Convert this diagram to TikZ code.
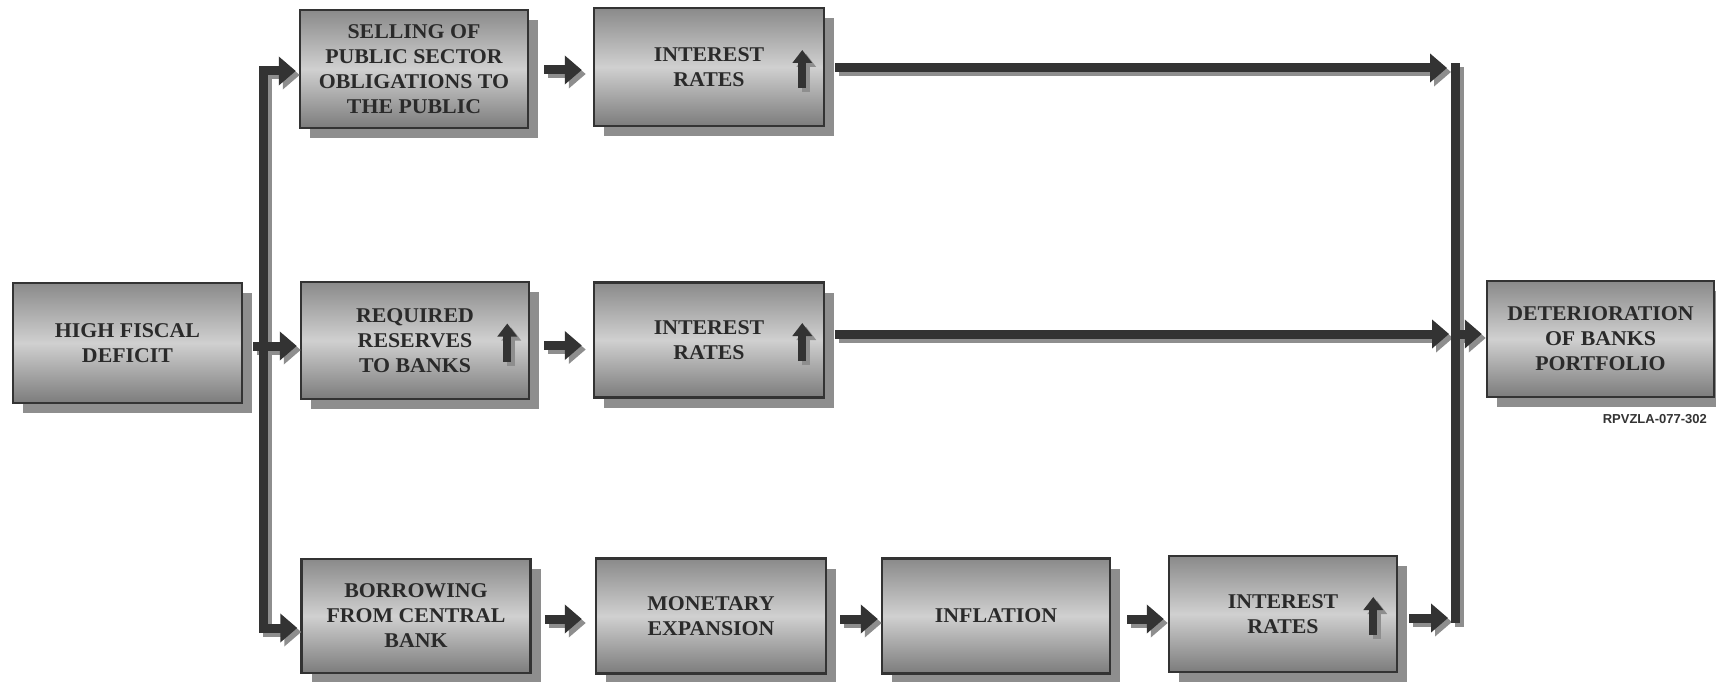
\documentclass[tikz,border=0pt]{standalone}
\usepackage{fontspec}
\setmainfont{Liberation Serif}[FakeStretch=1.04]
\newfontfamily\codefont{Liberation Sans}
\usetikzlibrary{arrows.meta,shadows,calc}
\definecolor{inkc}{HTML}{333333}
\definecolor{shadc}{HTML}{8E8E8E}
\definecolor{boxtop}{HTML}{8A8A8A}
\definecolor{boxmid}{HTML}{D0D0D0}
\definecolor{boxbot}{HTML}{7C7C7C}
\definecolor{txtc}{HTML}{2A2A2A}
\tikzset{
  box/.style={draw=inkc, line width=2.5pt, minimum width=229pt, minimum height=117pt,
    inner sep=0pt, align=center, font=\fontsize{21}{25}\selectfont\bfseries, text=txtc,
    top color=boxtop, bottom color=boxbot, middle color=boxmid,
    drop shadow={shadow xshift=10pt, shadow yshift=-10pt, fill=shadc, opacity=1}},
  cnc/.style={draw=inkc},
  cn/.style={cnc, line width=9pt, -{Triangle[length=17pt,width=28pt]}},
  br/.style={cnc, line width=9pt, line cap=rect},
  up/.style={cnc, line width=8pt, -{Triangle[length=13pt,width=19pt]}}
}
\newcommand\allconnectors{%
  \draw[br] (L1) -- (L3);
  \draw[br] (R1) -- (R3);
  \draw[cn] (L1) -- ($(L1 -| sell.west)+(-3,0)$);
  \draw[cn] ($(L2 -| hfd.east)+(10,0)$) -- ($(L2 -| req.west)+(-3,0)$);
  \draw[cn] (L3) -- ($(L3 -| bor.west)+(-3,0)$);
  \draw[cn] ($(sell.east)+(15,1)$) -- ($(sell.east -| int1.west)+(-11,1)$);
  \draw[cn] ($(req.east)+(14,5)$) -- ($(req.east -| int2.west)+(-11,5)$);
  \draw[cn] ($(bor.east)+(13,3)$) -- ($(bor.east -| mon.west)+(-13,3)$);
  \draw[cn] ($(mon.east)+(13,3)$) -- ($(mon.east -| inf.west)+(-3,3)$);
  \draw[cn] ($(inf.east)+(16,3)$) -- ($(inf.east -| int3.west)+(-4,3)$);
  \draw[cn] ($(R1 -| int1.east)+(10,0)$) -- ($(R1)+(-8,0)$);
  \draw[cn] ($(R2 -| int2.east)+(10,0)$) -- ($(R2)+(-6,0)$);
  \draw[cn] ($(R3 -| int3.east)+(11,0)$) -- ($(R3)+(-7,0)$);
  \draw[cn] (R2) -- ($(R2 -| det.west)+(-4,0)$);
  \draw[up] ($(int1.east)+(-23,21)$) -- ($(int1.east)+(-23,-17)$);
  \draw[up] ($(int2.east)+(-23,21)$) -- ($(int2.east)+(-23,-17)$);
  \draw[up] ($(int3.east)+(-25,21)$) -- ($(int3.east)+(-25,-17)$);
  \draw[up] ($(req.east)+(-23,21)$) -- ($(req.east)+(-23,-17)$);
}
\begin{document}
\begin{tikzpicture}[x=1pt,y=-1pt]
\useasboundingbox[fill=white] (0,0) rectangle (1716,682);
% nodes
\node[box, minimum height=120pt] (hfd) at (127.5,343) {HIGH FISCAL\\DEFICIT};
\node[box, minimum height=118pt, minimum width=228pt] (sell) at (414,69) {SELLING OF\\PUBLIC SECTOR\\OBLIGATIONS TO\\THE PUBLIC};
\node[box, minimum height=118pt, minimum width=230pt] (int1) at (709,67) {INTEREST\\RATES};
\node[box, minimum width=228pt] (req) at (415,340.5) {REQUIRED\\RESERVES\\TO BANKS};
\node[box, minimum height=115pt, minimum width=230pt] (int2) at (709,340) {INTEREST\\RATES};
\node[box, minimum height=114pt] (bor) at (416,616) {BORROWING\\FROM CENTRAL\\BANK};
\node[box, minimum height=115pt, minimum width=230pt] (mon) at (711,616) {MONETARY\\EXPANSION};
\node[box, minimum height=115pt, minimum width=228pt] (inf) at (996,616) {INFLATION};
\node[box, minimum height=116pt, minimum width=228pt] (int3) at (1283,614) {INTEREST\\RATES};
\node[box, minimum height=116pt, minimum width=227pt] (det) at (1600.5,339) {DETERIORATION\\OF BANKS\\PORTFOLIO};
\node[anchor=base east, font=\codefont\fontsize{13}{15}\selectfont\bfseries, text=inkc, inner sep=0pt] (code) at (1707,423) {RPVZLA-077-302};
% junction points
\coordinate (L1) at (263,71);
\coordinate (L2) at (263,346);
\coordinate (L3) at (263,628);
\coordinate (R1) at (1455,68);
\coordinate (R2) at (1455,334);
\coordinate (R3) at (1455,618);
% connector shadows, then connectors
\begin{scope}[transform canvas={shift={(4pt,-4pt)}}, cnc/.style={draw=shadc}]
  \allconnectors
\end{scope}
\begin{scope}
  \allconnectors
\end{scope}
\end{tikzpicture}
\end{document}
